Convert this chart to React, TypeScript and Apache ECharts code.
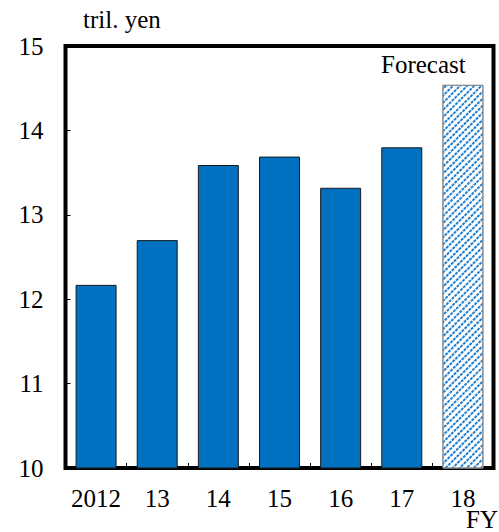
import React, { useEffect, useRef } from "react";
import * as echarts from "echarts";

const categories = ["2012", "13", "14", "15", "16", "17", "18"];
const actualValues = [12.17, 12.7, 13.59, 13.69, 13.32, 13.8, null];
const forecastValues = [null, null, null, null, null, null, 14.54];
const yMin = 10;
const yMax = 15;
const yInterval = 1;
const unitLabel = "tril. yen";
const xUnitLabel = "FY";
const forecastLabel = "Forecast";

const FONT = "'Liberation Serif', 'Times New Roman', serif";

export default function App() {
  const ref = useRef<HTMLDivElement>(null);
  useEffect(() => {
    if (!ref.current) return;
    const chart = echarts.init(ref.current, undefined, { renderer: "svg" });
    chart.setOption({
      animation: false,
      aria: { enabled: false },
      textStyle: { fontFamily: FONT },
      grid: {
        left: 65.5,
        right: 5.5,
        top: 46,
        bottom: 64,
        show: true,
        borderColor: "#000",
        borderWidth: 4,
        backgroundColor: "transparent",
      },
      xAxis: {
        type: "category",
        data: categories,
        axisLine: { show: false },
        axisTick: { show: true, inside: true, length: 5, lineStyle: { color: "#000", width: 1 } },
        axisLabel: { color: "#000", fontSize: 25, fontFamily: FONT, margin: 18, interval: 0 },
      },
      yAxis: {
        type: "value",
        min: yMin,
        max: yMax,
        interval: yInterval,
        splitLine: { show: false },
        axisLine: { show: false },
        axisTick: { show: true, inside: true, length: 5, lineStyle: { color: "#000", width: 1 } },
        axisLabel: { color: "#000", fontSize: 25, fontFamily: FONT, margin: 22 },
      },
      series: [
        {
          type: "bar",
          data: actualValues,
          barWidth: 41,
          barGap: "-100%",
          itemStyle: { color: "#0070C0", borderColor: "#1a1a1a", borderWidth: 1 },
        },
        {
          type: "bar",
          data: forecastValues,
          barWidth: 41,
          barGap: "-100%",
          itemStyle: {
            color: "#ffffff",
            borderColor: "#8c8c8c",
            borderWidth: 1,
            decal: {
              symbol: "rect",
              symbolSize: 1,
              color: "#1f7fd0",
              dashArrayX: [[3, 1]],
              dashArrayY: [1.3, 3],
              rotation: -Math.PI / 4,
            },
          },
        },
      ],
      graphic: [
        {
          type: "text",
          left: 83,
          top: 7,
          style: { text: unitLabel, fontSize: 25, fontFamily: FONT, fill: "#000" },
        },
        {
          type: "text",
          left: 381,
          top: 52,
          style: { text: forecastLabel, fontSize: 25, fontFamily: FONT, fill: "#000" },
        },
        {
          type: "text",
          left: 466,
          top: 507,
          style: { text: xUnitLabel, fontSize: 25, fontFamily: FONT, fill: "#000" },
        },
      ],
    });
    return () => chart.dispose();
  }, []);
  return <div ref={ref} style={{ width: 499, height: 532, position: "absolute", left: 0, top: 0 }} />;
}
